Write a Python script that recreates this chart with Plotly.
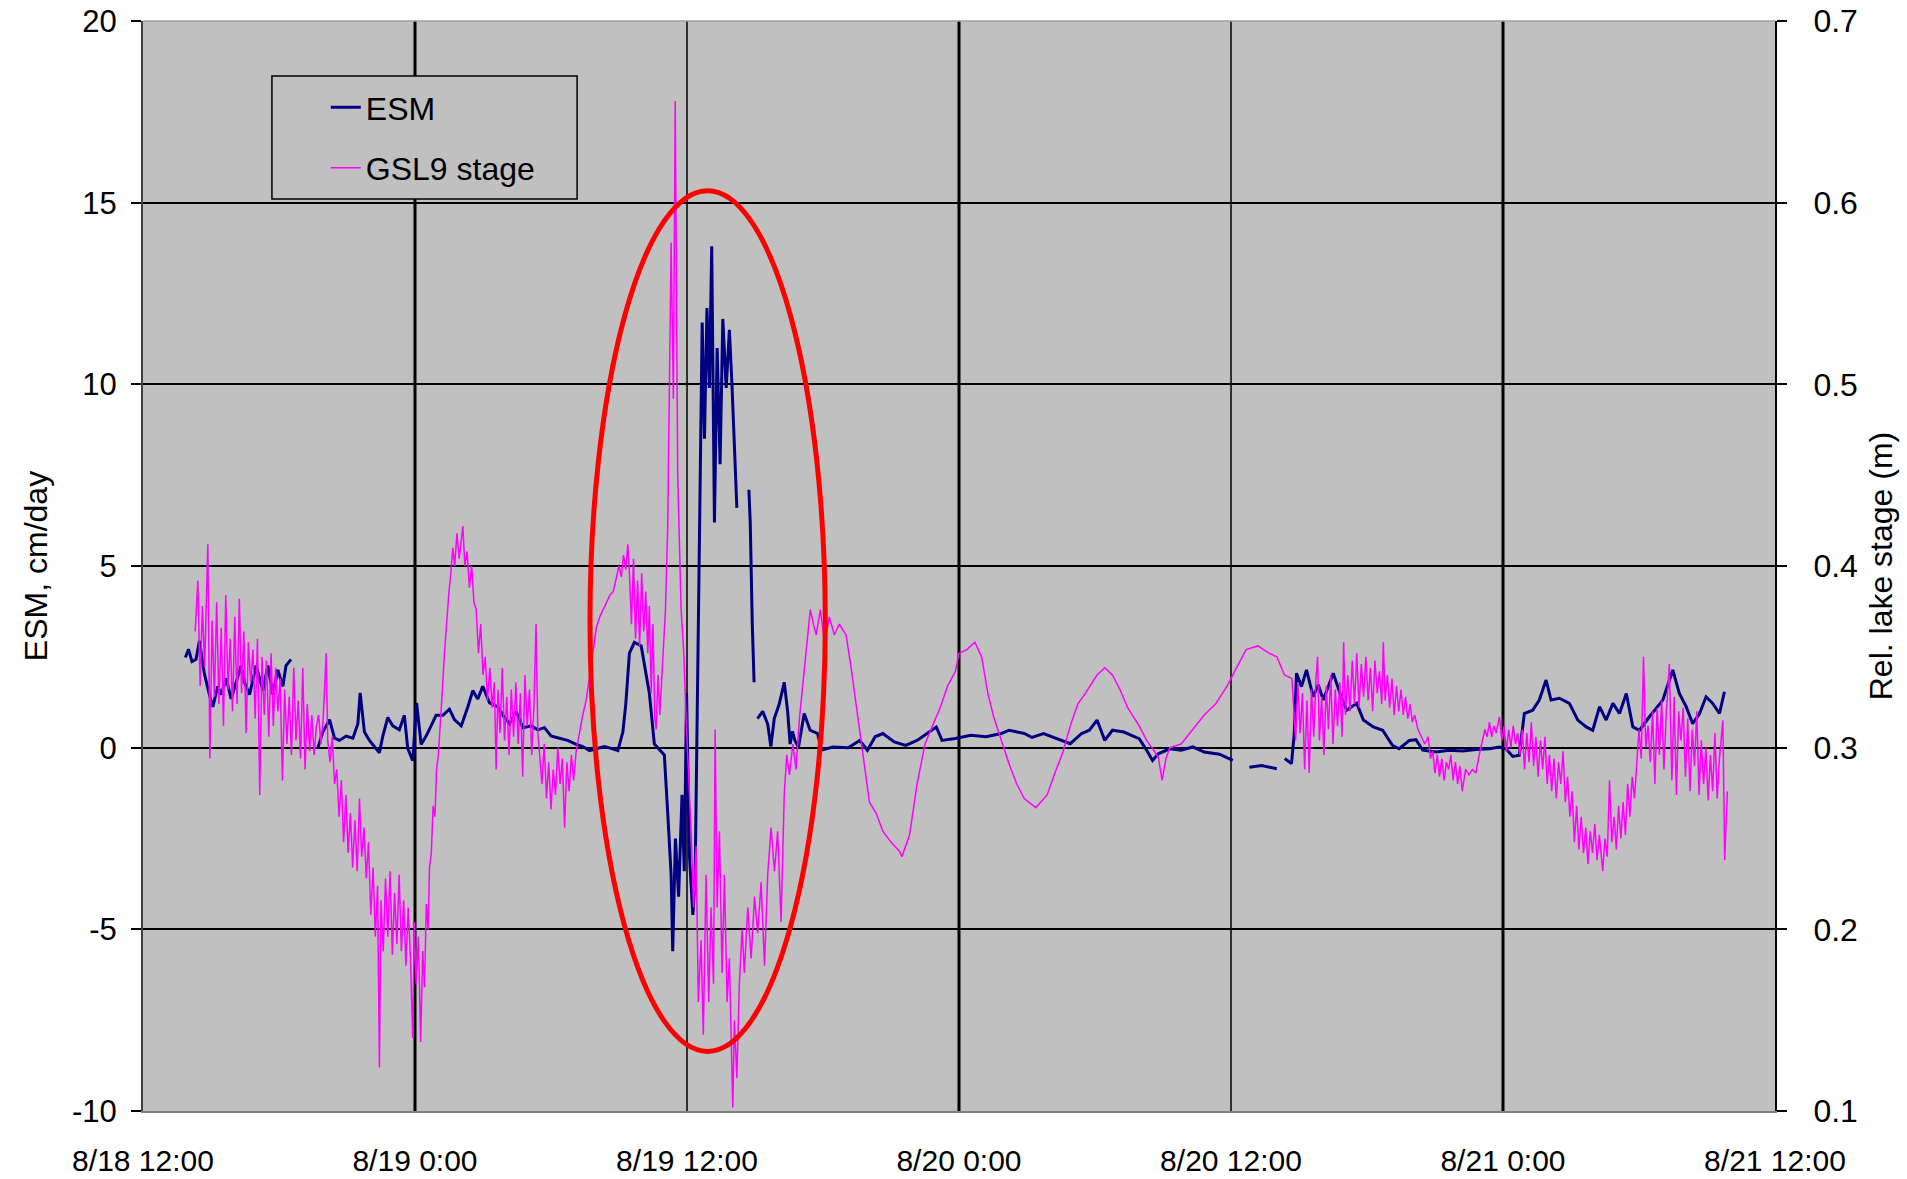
import pandas as pd
import plotly.graph_objects as go

START = pd.Timestamp("2008-08-18 12:00")

# ESM (cm/day) - hours after 8/18 12:00, None = data gap
esm_hours = [1.87, 2.01, 2.16, 2.34, 2.49, 2.71, 2.93, 3.08, 3.30, 3.45, 3.67, 3.89, 4.11, 4.33, 4.48,
             4.70, 4.99, 5.29, 5.51, 5.73, 5.95, 6.17, 6.31, 6.53, 6.60,
             7.71, 7.93, 8.23, 8.45, 8.67, 8.96, 9.26, 9.48, 9.58, 9.77, 9.99, 10.29, 10.43, 10.58,
             10.80, 11.02, 11.31, 11.53, 11.68, 11.90, 12.07, 12.27, 12.49, 12.71, 12.93, 13.23,
             13.52, 13.74, 14.04, 14.33, 14.55, 14.77, 14.99, 15.29, 15.66, 15.88, 16.17, 16.46,
             16.76, 17.13, 17.42, 17.71, 18.00, 18.37, 18.74, 19.11, 19.40, 19.70, 20.06, 20.36,
             20.65, 20.95, 21.17, 21.30, 21.46, 21.68, 21.98, 22.34, 22.56, 22.78, 23.00, 23.15,
             23.30, 23.37, 23.49, 23.63, 23.78, 23.88, 23.98, 24.11, 24.26, 24.36, 24.48, 24.58,
             24.67, 24.77, 24.88, 24.99, 25.09, 25.21, 25.33, 25.46, 25.58, 25.73, 25.87, 25.99,
             26.09, 26.20, 26.40, 26.73, 26.79, 26.88, 26.96, 27.03, 27.11, 27.34, 27.56, 27.70,
             27.85, 28.07, 28.29, 28.44, 28.55, 28.65, 28.76, 28.92, 29.17, 29.43, 29.76, 29.93,
             30.43, 31.11, 31.62, 31.96, 32.30, 32.64, 33.14, 33.65, 34.15, 34.66, 35.00, 35.25,
             35.84, 36.52, 37.19, 37.87, 38.21, 38.88, 39.22, 39.73, 40.23, 40.91, 41.41, 41.75,
             42.09, 42.43, 42.77, 43.27, 43.61, 43.95, 44.28, 44.54, 44.79, 45.30, 45.80, 46.31,
             46.82, 47.49, 48.08, 48.30, 48.81, 49.35, 50.02, 50.20, 50.37, 50.67, 50.79, 50.89,
             51.11, 51.33, 51.63, 51.85, 52.07, 52.51, 52.81, 53.10, 53.55, 53.84, 54.28, 54.69,
             55.13, 55.42, 55.87, 56.16, 56.46, 57.04, 57.63, 58.22, 58.81, 59.40, 59.84, 60.13,
             60.43, 60.72, 60.94, 61.31, 61.60, 61.90, 62.12, 62.49, 62.93, 63.30, 63.67, 63.96,
             64.26, 64.55, 64.85, 65.14, 65.44, 65.73, 66.02, 66.46, 67.05, 67.49, 67.78, 68.08,
             68.37, 68.67, 68.96, 69.25, 69.55, 69.77]
esm_values = [2.48, 2.71, 2.37, 2.43, 2.94, 2.03, 1.46, 1.12, 1.69, 1.46, 1.91, 1.34, 1.80, 2.26, 1.80,
              1.46, 2.26, 1.57, 2.26, 1.46, 2.14, 1.69, 2.26, 2.43, None,
              -0.02, 0.43, 0.77, 0.26, 0.20, 0.32, 0.26, 0.66, 1.51, 0.43, 0.20, -0.02, -0.14, 0.32,
              0.83, 0.60, 0.49, 0.89, -0.02, -0.36, 1.23, 0.09, 0.32, 0.60, 0.89, 0.89,
              1.06, 0.77, 0.60, 1.12, 1.57, 1.34, 1.69, 1.23, 1.12, 0.89, 0.66, 1.00,
              0.55, 0.60, 0.49, 0.55, 0.32, 0.26, 0.20, 0.09, 0.03, -0.08, -0.02, 0.03,
              -0.02, -0.08, 0.43, 1.2, 2.6, 2.9, 2.8, 1.5, 0.1, -0.05, -0.2, -1.8,
              -3.5, -5.6, -2.5, -4.1, -1.3, -3.4, 1.5, -3.0, -4.6, -3.5, 2.6, 8.0,
              11.7, 8.5, 12.1, 9.9, 13.8, 6.2, 11.0, 7.8, 11.8, 9.9, 11.5, 9.9,
              8.2, 6.6, None, 7.1, 6.2, 3.4, 1.8, None, 0.8, 1.0, 0.65, 0.03,
              0.8, 1.2, 1.8, 1.0, 0.1, 0.45, 0.2, 0.02, 0.94, 0.48, 0.39, -0.07,
              0.02, 0.0, 0.2, -0.07, 0.3, 0.39, 0.16, 0.06, 0.2, 0.43, 0.57, 0.2,
              0.25, 0.34, 0.3, 0.39, 0.48, 0.39, 0.28, 0.39, 0.28, 0.11, 0.39, 0.48,
              0.76, 0.2, 0.48, 0.43, 0.34, 0.25, -0.07, -0.35, -0.17, -0.03, -0.07, 0.02,
              -0.12, -0.18, -0.35, None, -0.54, -0.49, -0.58, None, -0.3, -0.44, 0.39, 2.05,
              1.68, 2.14, 1.40, 1.73, 1.31, 2.05, 1.49, 1.03, 1.22, 0.76, 0.57, 0.48,
              0.06, -0.03, 0.20, 0.22, -0.07, -0.12, -0.07, -0.09, -0.05, -0.03, 0.02, -0.03,
              -0.24, -0.21, 0.94, 1.03, 1.31, 1.86, 1.31, 1.36, 1.22, 0.76, 0.57, 0.48,
              1.13, 0.76, 1.22, 0.94, 1.49, 0.57, 0.48, 0.85, 1.31, 2.14, 1.49, 1.13,
              0.66, 0.94, 1.40, 1.22, 0.94, 1.54]

# GSL9 relative lake stage (m)
stage_hours = [2.30, 2.42, 2.52, 2.62, 2.72, 2.86, 2.95, 3.05, 3.15, 3.25, 3.35, 3.45, 3.55, 3.65, 3.75,
               3.85, 3.95, 4.05, 4.15, 4.25, 4.35, 4.45, 4.55, 4.65, 4.75, 4.85, 4.95, 5.05, 5.15,
               5.25, 5.35, 5.45, 5.55, 5.65, 5.75, 5.85, 5.95, 6.05, 6.15, 6.25, 6.35, 6.45, 6.55,
               6.65, 6.75, 6.85, 6.95, 7.05, 7.15, 7.25, 7.35, 7.45, 7.55, 7.65, 7.75, 7.85, 7.95,
               8.08, 8.15, 8.25, 8.35, 8.45, 8.55, 8.65, 8.75, 8.85, 8.95, 9.05, 9.15, 9.25, 9.35,
               9.45, 9.55, 9.65, 9.75, 9.85, 9.95, 10.05, 10.15, 10.25, 10.35, 10.43, 10.50, 10.60,
               10.70, 10.80, 10.90, 11.00, 11.10, 11.20, 11.30, 11.40, 11.50, 11.60, 11.70, 11.80,
               11.90, 11.97, 12.05, 12.15, 12.25, 12.34, 12.42, 12.50, 12.58, 12.64, 12.72, 12.80,
               12.88, 12.95, 13.03, 13.12, 13.20, 13.30, 13.40, 13.50, 13.58, 13.67, 13.75, 13.85,
               13.95, 14.05, 14.11, 14.20, 14.30, 14.40, 14.50, 14.60, 14.70, 14.80, 14.90, 15.00,
               15.10, 15.20, 15.30, 15.40, 15.50, 15.58, 15.66, 15.75, 15.85, 15.95, 16.05, 16.15,
               16.25, 16.35, 16.45, 16.55, 16.65, 16.75, 16.85, 16.95, 17.05, 17.15, 17.25, 17.34,
               17.42, 17.50, 17.60, 17.70, 17.80, 17.90, 18.00, 18.10, 18.20, 18.30, 18.40, 18.50,
               18.60, 18.70, 18.80, 18.90, 19.00, 19.11, 19.25, 19.40, 19.55, 19.70, 19.85, 20.00,
               20.15, 20.30, 20.45, 20.60, 20.75, 20.87, 21.00, 21.10, 21.20, 21.30, 21.39, 21.46,
               21.55, 21.64, 21.73, 21.82, 21.91, 22.00, 22.09, 22.18, 22.27, 22.34, 22.42, 22.50,
               22.58, 22.64, 22.72, 22.80, 22.93, 23.05, 23.15, 23.30, 23.40, 23.48, 23.55, 23.59,
               23.74, 23.86, 23.96, 24.08, 24.18, 24.29, 24.40, 24.50, 24.62, 24.72, 24.84, 24.96,
               25.06, 25.17, 25.24, 25.33, 25.43, 25.55, 25.65, 25.77, 25.87, 26.02, 26.09, 26.20,
               26.31, 26.43, 26.53, 26.68, 26.83, 26.98, 27.12, 27.27, 27.42, 27.56, 27.71, 27.86,
               28.00, 28.15, 28.29, 28.40, 28.52, 28.67, 28.81, 28.96, 29.11, 29.26, 29.44, 29.58,
               29.70, 29.88, 30.07, 30.28, 30.50, 30.72, 31.02, 31.24, 31.46, 31.75, 32.05, 32.34,
               32.64, 33.00, 33.37, 33.48, 33.82, 34.15, 34.50, 34.83, 35.17, 35.50, 35.84, 36.00,
               36.35, 36.70, 37.00, 37.27, 37.53, 37.87, 38.21, 38.55, 38.88, 39.39, 39.89, 40.23,
               40.57, 40.91, 41.24, 41.58, 42.09, 42.43, 42.77, 43.10, 43.44, 43.95, 44.28, 44.79,
               44.96, 45.13, 45.30, 45.80, 46.31, 46.82, 47.32, 47.83, 48.16, 48.67, 49.18, 49.68,
               50.02, 50.36, 50.69, 50.75, 50.85, 50.95, 51.05, 51.15, 51.25, 51.35, 51.45, 51.55,
               51.65, 51.75, 51.82, 51.90, 52.00, 52.10, 52.20, 52.30, 52.40, 52.50, 52.60, 52.70,
               52.80, 52.90, 52.97, 53.05, 53.15, 53.25, 53.35, 53.45, 53.55, 53.65, 53.75, 53.85,
               53.95, 54.05, 54.15, 54.25, 54.35, 54.45, 54.55, 54.65, 54.72, 54.80, 54.90, 55.00,
               55.10, 55.20, 55.30, 55.40, 55.50, 55.60, 55.70, 55.80, 55.90, 56.00, 56.10, 56.25,
               56.40, 56.55, 56.70, 56.80, 56.90, 57.00, 57.10, 57.20, 57.30, 57.40, 57.50, 57.60,
               57.70, 57.80, 57.90, 58.00, 58.10, 58.20, 58.35, 58.50, 58.65, 58.80, 58.95, 59.10,
               59.20, 59.30, 59.40, 59.50, 59.60, 59.70, 59.84, 59.95, 60.05, 60.15, 60.25, 60.35,
               60.45, 60.55, 60.65, 60.75, 60.85, 60.95, 61.05, 61.15, 61.25, 61.35, 61.45, 61.55,
               61.65, 61.75, 61.85, 61.95, 62.05, 62.15, 62.25, 62.35, 62.45, 62.55, 62.65, 62.75,
               62.85, 62.95, 63.05, 63.15, 63.25, 63.35, 63.45, 63.55, 63.65, 63.75, 63.85, 63.95,
               64.05, 64.15, 64.25, 64.40, 64.50, 64.60, 64.70, 64.80, 64.90, 65.00, 65.10, 65.20,
               65.30, 65.40, 65.50, 65.60, 65.70, 65.80, 65.90, 66.00, 66.10, 66.20, 66.30, 66.40,
               66.50, 66.60, 66.70, 66.80, 66.90, 67.00, 67.10, 67.20, 67.34, 67.45, 67.55, 67.65,
               67.75, 67.85, 67.95, 68.05, 68.15, 68.25, 68.35, 68.45, 68.55, 68.65, 68.75, 68.85,
               68.95, 69.05, 69.15, 69.25, 69.35, 69.45, 69.55, 69.70, 69.78, 69.85, 69.90]
stage_values = [0.364, 0.392, 0.334, 0.378, 0.344, 0.412, 0.294, 0.370, 0.328, 0.380, 0.324, 0.366, 0.312, 0.384, 0.332,
                0.360, 0.320, 0.372, 0.324, 0.382, 0.330, 0.364, 0.308, 0.358, 0.336, 0.354, 0.316, 0.360, 0.274,
                0.350, 0.318, 0.348, 0.306, 0.352, 0.312, 0.344, 0.320, 0.338, 0.282, 0.332, 0.302, 0.328, 0.296,
                0.344, 0.304, 0.326, 0.294, 0.344, 0.288, 0.324, 0.298, 0.318, 0.296, 0.312, 0.318, 0.302, 0.316,
                0.352, 0.304, 0.292, 0.306, 0.280, 0.288, 0.262, 0.282, 0.248, 0.274, 0.242, 0.264, 0.234, 0.260,
                0.232, 0.272, 0.240, 0.256, 0.228, 0.248, 0.208, 0.234, 0.196, 0.224, 0.124, 0.216, 0.188,
                0.228, 0.196, 0.232, 0.186, 0.220, 0.192, 0.230, 0.188, 0.216, 0.180, 0.212, 0.184,
                0.140, 0.204, 0.170, 0.196, 0.138, 0.188, 0.168, 0.214, 0.200, 0.234, 0.242, 0.268,
                0.262, 0.288, 0.296, 0.318, 0.330, 0.352, 0.370, 0.386, 0.396, 0.410, 0.400, 0.418,
                0.404, 0.416, 0.422, 0.400, 0.408, 0.388, 0.400, 0.380, 0.376, 0.352, 0.368, 0.340,
                0.350, 0.326, 0.344, 0.322, 0.336, 0.288, 0.332, 0.308, 0.344, 0.304, 0.328, 0.296,
                0.332, 0.306, 0.336, 0.302, 0.330, 0.284, 0.340, 0.312, 0.332, 0.296, 0.324, 0.368,
                0.308, 0.296, 0.280, 0.302, 0.272, 0.292, 0.266, 0.288, 0.274, 0.300, 0.280, 0.294,
                0.256, 0.292, 0.276, 0.296, 0.282, 0.298, 0.308, 0.318, 0.326, 0.338, 0.352, 0.366,
                0.372, 0.376, 0.380, 0.384, 0.386, 0.392, 0.400, 0.394, 0.406, 0.398, 0.412, 0.396,
                0.368, 0.404, 0.360, 0.392, 0.356, 0.396, 0.364, 0.386, 0.352, 0.378, 0.330, 0.368,
                0.316, 0.310, 0.340, 0.318, 0.352, 0.376, 0.422, 0.578, 0.492, 0.656, 0.526, 0.450,
                0.376, 0.352, 0.316, 0.282, 0.254, 0.212, 0.246, 0.160, 0.194, 0.142, 0.230, 0.160,
                0.212, 0.170, 0.310, 0.212, 0.254, 0.176, 0.230, 0.160, 0.184, 0.102, 0.150, 0.118,
                0.170, 0.200, 0.176, 0.212, 0.184, 0.218, 0.198, 0.226, 0.180, 0.230, 0.256, 0.232,
                0.254, 0.204, 0.274, 0.296, 0.285, 0.302, 0.288, 0.316, 0.334, 0.352, 0.376, 0.368,
                0.362, 0.376, 0.358, 0.372, 0.362, 0.368, 0.362, 0.344, 0.324, 0.300, 0.270, 0.264,
                0.254, 0.248, 0.243, 0.240, 0.252, 0.280, 0.302, 0.312, 0.322, 0.334, 0.342, 0.352,
                0.354, 0.358, 0.350, 0.330, 0.317, 0.304, 0.291, 0.280, 0.272, 0.267, 0.274, 0.286,
                0.297, 0.312, 0.324, 0.330, 0.340, 0.344, 0.340, 0.332, 0.322, 0.312, 0.304, 0.295,
                0.282, 0.294, 0.300, 0.302, 0.310, 0.318, 0.324, 0.334, 0.342, 0.354, 0.356, 0.352,
                0.350, 0.340, 0.338, 0.324, 0.304, 0.336, 0.308, 0.330, 0.288, 0.326, 0.286, 0.332,
                0.306, 0.338, 0.350, 0.304, 0.328, 0.296, 0.334, 0.310, 0.340, 0.302, 0.332, 0.312,
                0.336, 0.306, 0.358, 0.318, 0.340, 0.320, 0.348, 0.324, 0.352, 0.322, 0.346, 0.328,
                0.350, 0.326, 0.344, 0.320, 0.348, 0.330, 0.342, 0.324, 0.358, 0.326, 0.340, 0.322,
                0.338, 0.318, 0.334, 0.320, 0.332, 0.318, 0.328, 0.316, 0.324, 0.314, 0.318, 0.310,
                0.306, 0.302, 0.306, 0.294, 0.298, 0.286, 0.296, 0.284, 0.294, 0.282, 0.292, 0.288,
                0.296, 0.282, 0.292, 0.280, 0.290, 0.276, 0.288, 0.285, 0.288, 0.286, 0.296, 0.304,
                0.310, 0.306, 0.314, 0.306, 0.312, 0.308, 0.317, 0.304, 0.312, 0.298, 0.310, 0.300,
                0.312, 0.302, 0.308, 0.296, 0.310, 0.288, 0.308, 0.292, 0.314, 0.290, 0.306, 0.284,
                0.304, 0.288, 0.306, 0.280, 0.296, 0.276, 0.294, 0.272, 0.292, 0.280, 0.298, 0.270,
                0.284, 0.262, 0.276, 0.248, 0.268, 0.244, 0.262, 0.242, 0.256, 0.236, 0.254, 0.242,
                0.258, 0.238, 0.252, 0.232, 0.250, 0.240, 0.282, 0.248, 0.262, 0.244, 0.268, 0.250,
                0.270, 0.252, 0.280, 0.262, 0.284, 0.272, 0.292, 0.310, 0.294, 0.350, 0.300, 0.312,
                0.292, 0.320, 0.280, 0.322, 0.296, 0.326, 0.288, 0.318, 0.346, 0.282, 0.328, 0.274,
                0.320, 0.304, 0.322, 0.284, 0.316, 0.276, 0.310, 0.290, 0.320, 0.274, 0.304, 0.280,
                0.300, 0.271, 0.296, 0.276, 0.308, 0.272, 0.294, 0.315, 0.238, 0.262, 0.276]

tick_hours = [0, 12, 24, 36, 48, 60, 72]
tick_labels = ["8/18 12:00", "8/19 0:00", "8/19 12:00", "8/20 0:00", "8/20 12:00", "8/21 0:00", "8/21 12:00"]
esm_ticks = [-10, -5, 0, 5, 10, 15, 20]
esm_tick_labels = ["-10", "-5", "0", "5", "10", "15", "20"]
stage_ticks = [0.1, 0.2, 0.3, 0.4, 0.5, 0.6, 0.7]
stage_tick_labels = ["0.1", "0.2", "0.3", "0.4", "0.5", "0.6", "0.7"]


def to_time(hours):
    return [START + pd.Timedelta(hours=h) for h in hours]


esm_t = to_time(esm_hours)
stage_t = to_time(stage_hours)
tick_t = to_time(tick_hours)

FONT = "Liberation Sans, Arial, sans-serif"

fig = go.Figure()
fig.add_trace(go.Scatter(x=esm_t, y=esm_values, mode="lines", name="ESM",
                         line=dict(color="#000080", width=3), connectgaps=False,
                         legendgroup="a"))
fig.add_trace(go.Scatter(x=stage_t, y=stage_values, mode="lines", name="GSL9 stage",
                         line=dict(color="#FF00FF", width=1.5), yaxis="y2",
                         legendgroup="b"))

shapes = []
for h, t in zip(tick_hours[1:-1], tick_t[1:-1]):
    shapes.append(dict(type="line", xref="x", yref="paper", x0=t, x1=t, y0=0, y1=1,
                       line=dict(color="black", width=3 if h % 24 == 12 else 1.5), layer="below"))
# top border of plot area
shapes.append(dict(type="line", xref="paper", yref="paper", x0=0, x1=1, y0=1, y1=1,
                   line=dict(color="#A0A0A0", width=1.5), layer="above"))
# legend frame
shapes.append(dict(type="rect", xref="paper", yref="paper", x0=0.079, x1=0.266, y0=0.8367, y1=0.9495,
                   fillcolor="#C0C0C0", line=dict(color="black", width=1.5), layer="above"))
# red ellipse highlighting the event
shapes.append(dict(type="circle", xref="x", yref="y",
                   x0=START + pd.Timedelta(hours=19.72), x1=START + pd.Timedelta(hours=30.1),
                   y0=-8.36, y1=15.33, line=dict(color="#FF0000", width=5), layer="above"))

fig.update_layout(
    width=1907, height=1179,
    margin=dict(l=143, r=132, t=21, b=68),
    paper_bgcolor="white", plot_bgcolor="#C0C0C0",
    font=dict(family=FONT, color="black"),
    showlegend=True,
    legend=dict(x=0.112, y=0.946, xanchor="left", yanchor="top", bgcolor="rgba(0,0,0,0)",
                borderwidth=0, font=dict(size=32, family=FONT, color="black"), tracegroupgap=16),
    shapes=shapes,
    xaxis=dict(type="date", range=[tick_t[0], tick_t[-1]], tickvals=tick_t, ticktext=tick_labels,
               showgrid=False, zeroline=False, ticks="", showline=True, linecolor="#808080",
               linewidth=2, tickfont=dict(size=30, family=FONT, color="black"),
               ticklabelstandoff=22, automargin=False),
    yaxis=dict(range=[-10, 20], tickvals=esm_ticks, ticktext=esm_tick_labels, showgrid=True,
               gridcolor="black", gridwidth=1.5,
               zeroline=False, ticks="outside", ticklen=10, tickwidth=1.5, tickcolor="black",
               showline=True, linecolor="#404040", linewidth=2,
               tickfont=dict(size=31, family=FONT, color="black"), ticklabelstandoff=8,
               title=dict(text="ESM, cm/day", font=dict(size=32, family=FONT, color="black"), standoff=15),
               automargin=False),
    yaxis2=dict(range=[0.1, 0.7], tickvals=stage_ticks, ticktext=stage_tick_labels, overlaying="y",
                side="right", showgrid=False, zeroline=False, ticks="outside", ticklen=10, tickwidth=1.5,
                tickcolor="black", showline=True, linecolor="black", linewidth=2,
                tickfont=dict(size=32, family=FONT, color="black"), ticklabelstandoff=20,
                title=dict(text="Rel. lake stage (m)", font=dict(size=32, family=FONT, color="black"), standoff=13),
                automargin=False),
)

fig.write_html("out.html", config={"displayModeBar": False},
               post_script="document.body.style.margin='0';document.body.style.overflow='hidden';")
